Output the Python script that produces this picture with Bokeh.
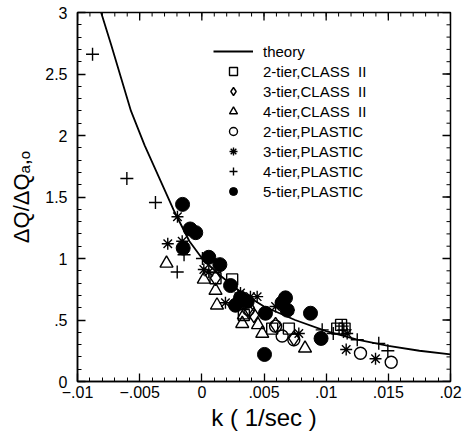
import math
from bokeh.plotting import figure
from bokeh.models import Range1d, Legend, LegendItem, FixedTicker
from bokeh.embed import file_html
from bokeh.resources import INLINE

# ---- data ----
theory_k = [-0.0081, -0.0073, -0.0065, -0.0057, -0.0046, -0.0034, -0.0022, -0.0010,
            0.0001, 0.0015, 0.0031, 0.0050, 0.0075, 0.0100, 0.0125, 0.0150, 0.0175, 0.0200]
theory_y = [3.0, 2.74, 2.47, 2.20, 1.92, 1.65, 1.38, 1.14,
            0.99, 0.86, 0.73, 0.61, 0.50, 0.41, 0.34, 0.29, 0.25, 0.22]

sq2_k = [0.0011, 0.00244, 0.00338, 0.00566, 0.0070, 0.01089, 0.0112, 0.01148]
sq2_y = [0.84, 0.83, 0.54, 0.43, 0.43, 0.43, 0.46, 0.43]

dia3_k = [0.0011, 0.00378, 0.00418, 0.00593, 0.0074]
dia3_y = [0.84, 0.57, 0.54, 0.46, 0.35]

tri4_k = [-0.00284, 0.00016, 0.0011, 0.00122, 0.00325, 0.00338, 0.00452, 0.00486, 0.0083]
tri4_y = [0.96, 0.83, 0.74, 0.62, 0.47, 0.54, 0.46, 0.39, 0.27]

cir2_k = [0.00375, 0.00593, 0.00646, 0.0074, 0.01276, 0.01523]
cir2_y = [0.585, 0.45, 0.37, 0.34, 0.23, 0.157]

ast3_k = [-0.00196, -0.00274, -0.00158, 0.00016, 0.00056, 0.0019, 0.00311, 0.00391,
          0.00445, 0.00593, 0.0070, 0.0078, 0.01169, 0.01161, 0.01397]
ast3_y = [1.34, 1.12, 1.14, 0.91, 0.89, 0.64, 0.72, 0.69,
          0.69, 0.61, 0.58, 0.39, 0.39, 0.26, 0.185]

plus4_k = [-0.00879, -0.00603, -0.00373, -0.00143, -0.00198, 0.00005, 0.00968, 0.01057,
           0.01129, 0.01142, 0.0125, 0.01423, 0.01496]
plus4_y = [2.66, 1.65, 1.455, 1.03, 0.89, 1.00, 0.42, 0.39,
           0.45, 0.42, 0.34, 0.31, 0.25]

fil5_k = [-0.00155, -0.00094, -0.00049, -0.0015, 0.00056, 0.00145, 0.00231, 0.00271,
          0.00311, 0.00365, 0.00512, 0.00673, 0.00646, 0.00687, 0.00874, 0.00959, 0.00504]
fil5_y = [1.44, 1.24, 1.21, 1.085, 1.01, 0.95, 0.78, 0.62,
          0.68, 0.65, 0.555, 0.68, 0.64, 0.58, 0.555, 0.35, 0.22]

x_ticks = [-0.01, -0.005, 0.0, 0.005, 0.01, 0.015, 0.02]
x_tick_labels = ["−.01", "−.005", "0", ".005", ".01", ".015", ".02"]
y_ticks = [0, 0.5, 1, 1.5, 2, 2.5, 3]
y_tick_labels = ["0", ".5", "1", "1.5", "2", "2.5", "3"]
x_minor = [round(-0.01 + i * 0.001, 4) for i in range(31)]
y_minor = [round(i * 0.1, 2) for i in range(31)]

legend_labels = ["theory", "2-tier,CLASS  II", "3-tier,CLASS  II", "4-tier,CLASS  II",
                 "2-tier,PLASTIC", "3-tier,PLASTIC", "4-tier,PLASTIC", "5-tier,PLASTIC"]

FONT = "Liberation Sans"
X0, X1, Y0, Y1 = -0.01, 0.02, 0.0, 3.0

p = figure(width=463, height=438, output_backend="svg", toolbar_location=None,
           x_range=Range1d(X0, X1), y_range=Range1d(Y0, Y1),
           x_axis_label="k ( 1/sec )", y_axis_label="ΔQ/ΔQₐ,ₒ",
           min_border_left=77, min_border_right=13, min_border_top=12, min_border_bottom=57)
p.grid.visible = False
p.outline_line_color = "black"
p.outline_line_width = 1.5
p.background_fill_color = "white"
p.border_fill_color = "white"

MAJ, MIN = 8, 4

for ax, ticks, minor, labs in ((p.xaxis[0], x_ticks, x_minor, x_tick_labels),
                               (p.yaxis[0], y_ticks, y_minor, y_tick_labels)):
    ax.ticker = FixedTicker(ticks=ticks, minor_ticks=minor)
    ax.major_label_overrides = dict(zip(ticks, labs))
    ax.axis_line_color = "black"
    ax.axis_line_width = 1.5
    ax.major_tick_in = MAJ
    ax.major_tick_out = 0
    ax.minor_tick_in = MIN
    ax.minor_tick_out = 0
    ax.major_tick_line_color = "black"
    ax.minor_tick_line_color = "black"
    ax.major_tick_line_width = 1.3
    ax.minor_tick_line_width = 1.0
    ax.major_label_text_font = FONT
    ax.major_label_text_font_size = "16px"
    ax.major_label_text_color = "black"
    ax.axis_label_text_font = FONT
    ax.axis_label_text_font_style = "normal"
    ax.axis_label_text_color = "black"

p.xaxis[0].major_label_standoff = 4
p.yaxis[0].major_label_standoff = 10
p.xaxis[0].axis_label_text_font_size = "24px"
p.xaxis[0].axis_label_standoff = 3
p.yaxis[0].axis_label_text_font_size = "22px"
p.yaxis[0].axis_label_standoff = 8

# tick marks on top and right frame edges (inward)
p.ray(x=x_ticks, y=[Y1] * len(x_ticks), length=MAJ, length_units="screen",
      angle=-math.pi / 2, line_color="black", line_width=1.3)
p.ray(x=x_minor, y=[Y1] * len(x_minor), length=MIN, length_units="screen",
      angle=-math.pi / 2, line_color="black", line_width=1.0)
p.ray(x=[X1] * len(y_ticks), y=y_ticks, length=MAJ, length_units="screen",
      angle=math.pi, line_color="black", line_width=1.3)
p.ray(x=[X1] * len(y_minor), y=y_minor, length=MIN, length_units="screen",
      angle=math.pi, line_color="black", line_width=1.0)

lw = 1.4
r_th = p.line(theory_k, theory_y, line_color="black", line_width=1.8)
r_sq = p.scatter(sq2_k, sq2_y, marker="square", size=11, fill_color=None, line_color="black", line_width=lw)
r_di = p.scatter(dia3_k, dia3_y, marker="diamond", size=15, fill_color=None, line_color="black", line_width=lw)
r_tr = p.scatter(tri4_k, tri4_y, marker="triangle", size=13, fill_color=None, line_color="black", line_width=lw)
r_ci = p.scatter(cir2_k, cir2_y, marker="circle", size=12, fill_color=None, line_color="black", line_width=lw)
r_as = p.scatter(ast3_k, ast3_y, marker="asterisk", size=12, line_color="black", line_width=lw)
r_pl = p.scatter(plus4_k, plus4_y, marker="cross", size=13, line_color="black", line_width=lw)
r_fi = p.scatter(fil5_k, fil5_y, marker="circle", size=14, fill_color="black", line_color="black")

renderers = [r_th, r_sq, r_di, r_tr, r_ci, r_as, r_pl, r_fi]
items = [LegendItem(label=lab, renderers=[r]) for lab, r in zip(legend_labels, renderers)]
legend = Legend(items=items, location=(136, 180), glyph_width=40, glyph_height=20,
                label_height=20, label_standoff=10, spacing=0, padding=0, margin=0,
                label_text_font=FONT, label_text_font_size="15px", label_text_color="black",
                border_line_alpha=0, background_fill_alpha=0)
p.add_layout(legend)

open("out.html", "w").write(file_html(p, INLINE))
